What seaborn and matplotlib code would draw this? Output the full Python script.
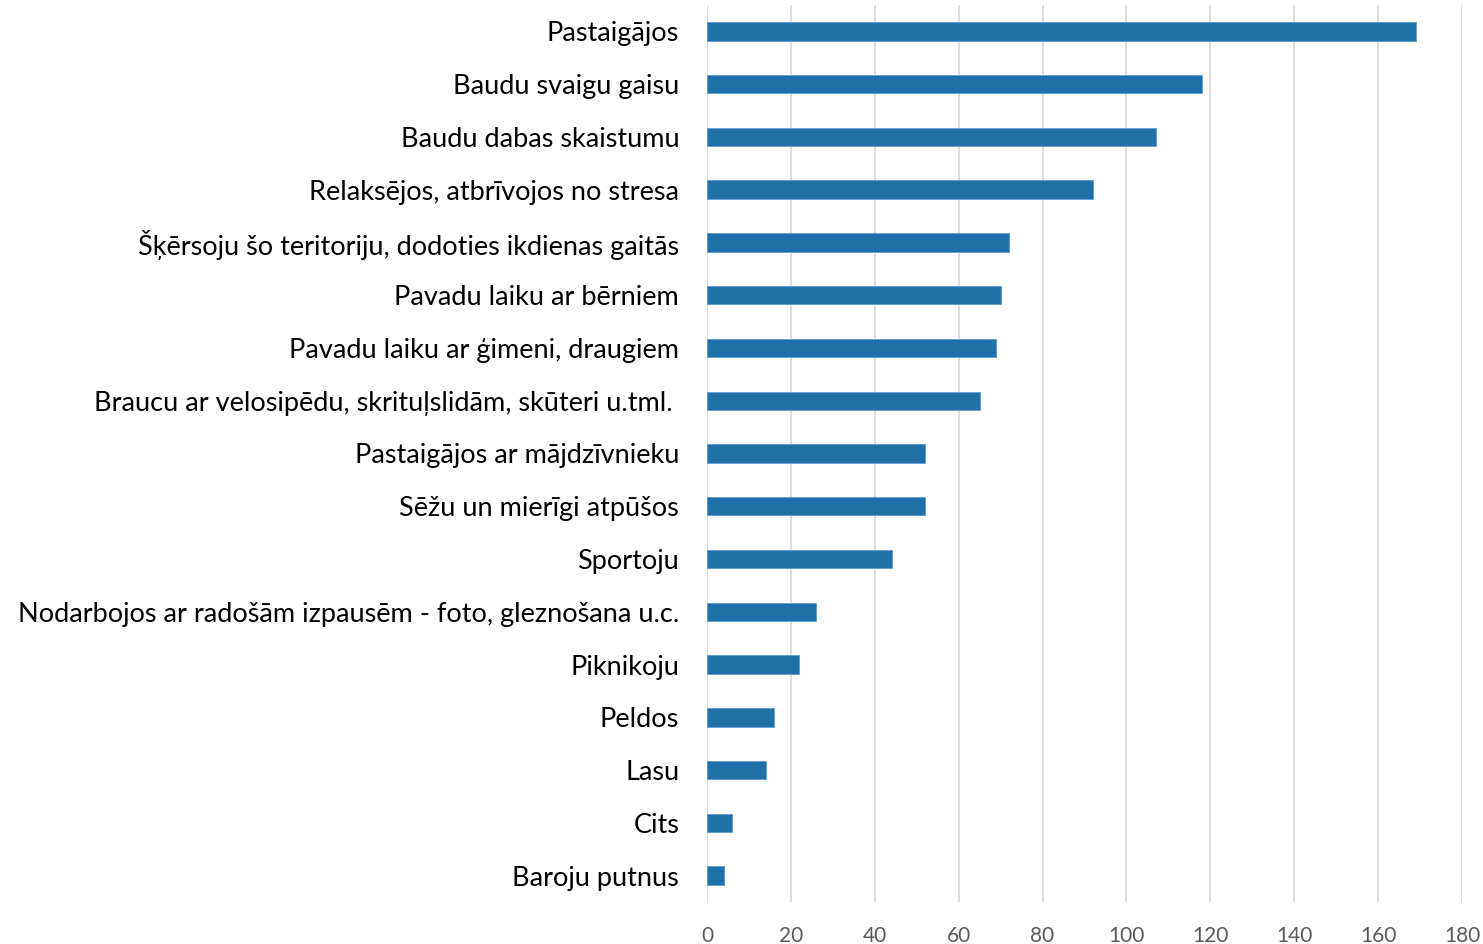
import matplotlib
matplotlib.use("Agg")
import matplotlib.pyplot as plt
import seaborn as sns
import pandas as pd

categories = [
    "Pastaigājos",
    "Baudu svaigu gaisu",
    "Baudu dabas skaistumu",
    "Relaksējos, atbrīvojos no stresa",
    "Šķērsoju šo teritoriju, dodoties ikdienas gaitās",
    "Pavadu laiku ar bērniem",
    "Pavadu laiku ar ģimeni, draugiem",
    "Braucu ar velosipēdu, skrituļslidām, skūteri u.tml. ",
    "Pastaigājos ar mājdzīvnieku",
    "Sēžu un mierīgi atpūšos",
    "Sportoju",
    "Nodarbojos ar radošām izpausēm - foto, gleznošana u.c.",
    "Piknikoju",
    "Peldos",
    "Lasu",
    "Cits",
    "Baroju putnus",
]
values = [169, 118, 107, 92, 72, 70, 69, 65, 52, 52, 44, 26, 22, 16, 14, 6, 4]
x_ticks = [0, 20, 40, 60, 80, 100, 120, 140, 160, 180]

df = pd.DataFrame({"cat": categories, "val": values})

sns.set_theme(style="white")
plt.rcParams["font.family"] = ["Lato", "DejaVu Sans"]

fig = plt.figure(figsize=(14.83, 9.44), dpi=100)
ax = fig.add_axes([707 / 1483, 1 - 902 / 944, (1462 - 707) / 1483, (902 - 5) / 944])

sns.barplot(data=df, x="val", y="cat", orient="h", color="#1F6FA9",
            width=0.35, saturation=1, edgecolor="#5B9BD5", linewidth=0.6, ax=ax, zorder=3)

ax.set_xlim(0, 180)
ax.set_xticks(x_ticks)
ax.set_ylim(len(categories) - 0.5, -0.5)
ax.xaxis.grid(True, color="#D9D9D9", linewidth=1.3, zorder=0)
ax.yaxis.grid(False)
ax.set_axisbelow(True)
for s in ax.spines.values():
    s.set_visible(False)
ax.set_xlabel("")
ax.set_ylabel("")
ax.tick_params(axis="x", length=0, pad=17, labelsize=15, labelcolor="#595959")
ax.tick_params(axis="y", length=0, pad=20, labelsize=19.5, labelcolor="#000000")

fig.savefig("out.png", dpi=100)
